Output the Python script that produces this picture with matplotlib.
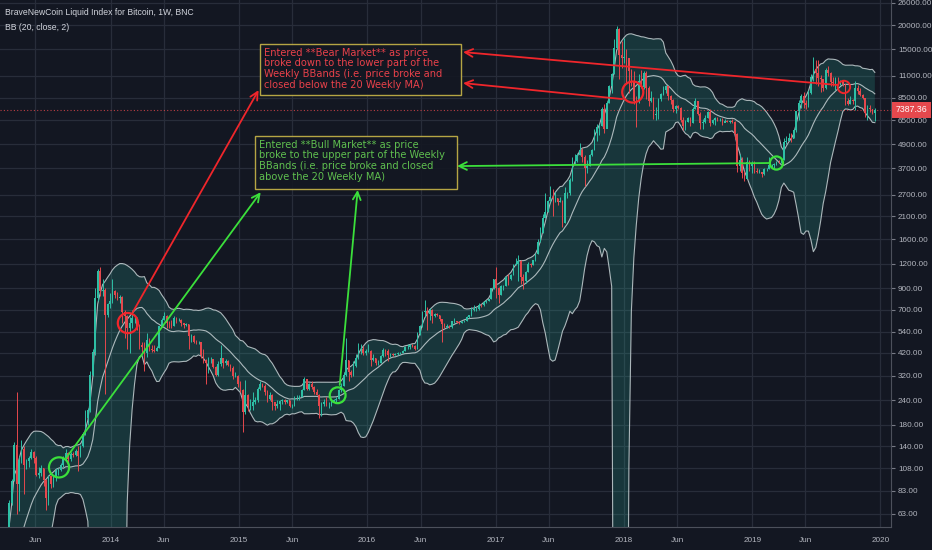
import numpy as np
import pandas as pd
import matplotlib
matplotlib.use('Agg')
import matplotlib.pyplot as plt
import matplotlib.dates as mdates
import matplotlib.transforms as mtransforms
from matplotlib import font_manager
from matplotlib.patches import Rectangle
from matplotlib.ticker import FixedLocator, NullLocator, FuncFormatter

# weekly bars (Monday start) from 2012-10-01, close / high / low per year
close_2012 = [11.9, 11.8, 11.7, 10.9, 10.8, 10.9, 11.6, 12.3, 12.6, 13.4, 13.5, 13.4, 13.4, 13.6]
high_2012 = [12.9, 12.0, 12.0, 11.8, 11.0, 11.0, 11.9, 12.5, 12.8, 13.6, 13.8, 13.6, 13.5, 13.8]
low_2012 = [11.7, 11.5, 11.6, 10.0, 10.5, 10.6, 10.8, 11.6, 12.1, 12.6, 13.3, 13.3, 13.2, 13.2]

close_2013 = [14.1, 15.7, 17.4, 20.4, 23.6, 27.0, 29.8, 34.5, 46.9, 47.0, 71.5, 93.0, 142, 90, 119, 135,
              112, 117, 122, 131, 122, 100, 102, 108, 94, 76, 98, 90, 96, 105, 106, 112, 122, 129, 120,
              127, 126, 132, 125, 140, 161, 195, 214, 322, 425, 800, 1097, 870, 880, 660, 745, 770]
high_2013 = [14.5, 16.0, 18.0, 21.0, 24.5, 27.5, 30.5, 35.0, 48.0, 48.5, 74.0, 95.0, 147, 266, 125, 150,
             140, 121, 125, 135, 133, 125, 110, 112, 108, 95, 100, 99, 98, 108, 108, 115, 124, 135, 130,
             131, 130, 135, 140, 142, 165, 215, 220, 340, 440, 900, 1130, 1160, 1000, 900, 760, 850]
low_2013 = [13.5, 14.0, 15.5, 17.3, 20.0, 23.5, 26.8, 29.5, 34.0, 40.0, 46.0, 70.0, 93, 63, 65, 115,
            80, 107, 110, 121, 115, 98, 96, 98, 88, 66, 70, 86, 87, 93, 100, 104, 110, 118, 114,
            118, 123, 124, 104, 123, 139, 160, 180, 210, 320, 410, 770, 820, 820, 260, 640, 710]

close_2014 = [870, 830, 800, 810, 680, 650, 560, 600, 630, 630, 560, 460, 450, 420, 490, 440, 435, 430,
              445, 575, 620, 650, 600, 595, 580, 630, 620, 620, 595, 585, 590, 510, 510, 480, 475, 480,
              410, 385, 375, 390, 390, 355, 325, 370, 395, 375, 380, 365, 350, 320, 320, 290]
high_2014 = [1000, 880, 860, 830, 820, 700, 660, 640, 700, 650, 640, 590, 480, 480, 530, 500, 460, 460,
             455, 580, 630, 680, 660, 610, 620, 650, 640, 630, 625, 600, 600, 590, 525, 520, 490, 485,
             480, 440, 390, 400, 400, 390, 360, 380, 460, 390, 390, 385, 370, 360, 335, 325]
low_2014 = [760, 800, 780, 760, 600, 500, 440, 420, 560, 600, 550, 440, 420, 340, 400, 430, 425, 425,
            430, 445, 570, 620, 560, 560, 560, 580, 600, 610, 580, 565, 575, 440, 480, 470, 465, 465,
            395, 375, 290, 330, 375, 350, 320, 320, 360, 350, 365, 360, 340, 310, 315, 280]

close_2015 = [270, 210, 255, 225, 225, 235, 240, 275, 290, 285, 265, 245, 255, 235, 225, 230, 238, 240,
              236, 240, 225, 225, 245, 245, 250, 270, 310, 275, 290, 280, 265, 255, 225, 230, 235, 230,
              230, 235, 240, 245, 270, 285, 325, 385, 335, 325, 360, 395, 435, 440, 420, 430]
high_2015 = [300, 275, 305, 260, 245, 265, 250, 280, 300, 295, 290, 270, 265, 260, 235, 240, 240, 245,
             245, 242, 240, 230, 252, 255, 255, 275, 315, 300, 295, 300, 285, 275, 260, 235, 245, 250,
             235, 240, 245, 250, 275, 295, 335, 500, 385, 345, 380, 415, 470, 465, 455, 440]
low_2015 = [265, 165, 205, 212, 215, 215, 230, 235, 270, 280, 255, 235, 240, 215, 215, 220, 215, 230,
            230, 232, 222, 220, 225, 240, 240, 250, 270, 270, 270, 275, 260, 255, 195, 200, 225, 225,
            220, 225, 235, 235, 245, 265, 285, 320, 300, 315, 320, 355, 390, 415, 410, 410]

close_2016 = [430, 385, 395, 375, 375, 405, 435, 430, 410, 415, 410, 415, 420, 420, 430, 450, 450, 460,
              455, 440, 530, 575, 680, 690, 665, 700, 650, 665, 655, 625, 590, 570, 580, 570, 610, 610,
              605, 600, 615, 615, 640, 655, 700, 705, 705, 740, 735, 765, 775, 790, 900, 1000]
high_2016 = [465, 435, 415, 395, 385, 410, 445, 440, 440, 420, 420, 420, 425, 425, 435, 455, 465, 465,
             465, 460, 535, 585, 690, 780, 720, 710, 705, 675, 670, 660, 620, 595, 590, 585, 615, 630,
             615, 610, 615, 620, 645, 660, 720, 740, 720, 755, 750, 775, 785, 795, 905, 1005]
low_2016 = [425, 360, 380, 365, 365, 375, 400, 405, 380, 400, 405, 410, 410, 415, 420, 430, 440, 440,
            450, 435, 440, 520, 570, 650, 550, 620, 600, 640, 645, 615, 480, 565, 565, 565, 565, 600,
            600, 590, 600, 605, 610, 630, 650, 690, 690, 700, 725, 730, 755, 770, 790, 890]

close_2017 = [900, 830, 920, 920, 1025, 1000, 1050, 1180, 1200, 1240, 1030, 975, 1090, 1200, 1180, 1250,
              1350, 1550, 1720, 2050, 2200, 2520, 2650, 2600, 2600, 2500, 2520, 1950, 2750, 2750, 3230,
              4050, 4050, 4350, 4600, 4200, 3700, 3800, 4350, 4600, 5600, 6000, 6100, 7400, 5900, 8000,
              9700, 11200, 15200, 19000, 14000, 13600]
high_2017 = [1150, 910, 935, 930, 1040, 1060, 1065, 1200, 1290, 1330, 1255, 1060, 1100, 1220, 1210, 1260,
             1360, 1610, 1850, 2150, 2750, 2560, 3000, 2900, 2800, 2600, 2640, 2540, 2950, 2810, 3290,
             4200, 4400, 4450, 4990, 4700, 4300, 4100, 4400, 4650, 5900, 6200, 6200, 7600, 7850, 8200,
             9900, 11400, 17000, 19800, 19200, 16500]
low_2017 = [800, 760, 830, 885, 920, 940, 995, 1050, 1180, 980, 950, 890, 960, 1090, 1160, 1180,
            1240, 1350, 1550, 1720, 2050, 2200, 2500, 2100, 2500, 2400, 2480, 1850, 1950, 2600, 2710,
            3200, 3900, 4000, 4300, 4000, 3000, 3500, 3800, 4250, 4600, 5100, 5500, 6100, 5600, 6500,
            8000, 9000, 11200, 15000, 10600, 12000]

close_2018 = [13700, 13500, 11600, 10200, 8200, 8100, 10400, 9600, 11400, 9500, 8200, 8500, 6900,
              7000, 8400, 8900, 9300, 9700, 8700, 8300, 7400, 7700, 7500, 6500, 6100, 6400, 6700, 6300,
              7400, 8200, 7000, 6300, 6400, 6700, 7200, 6300, 6500, 6700, 6600, 6600, 6300, 6450, 6400,
              6450, 6400, 5550, 3800, 4100, 3500, 3250, 4000, 3800, 3900]
high_2018 = [17200, 15000, 13600, 11900, 11700, 8700, 11200, 11800, 11700, 11600, 9800, 9200, 8600,
             7600, 8500, 9000, 9800, 9900, 9600, 8800, 8400, 7800, 7800, 7600, 6800, 6500, 6800, 6800,
             7600, 8500, 8200, 7150, 6600, 6900, 7300, 7400, 6600, 6800, 6800, 6700, 6650, 6600, 6550,
             6500, 6600, 6450, 5600, 4400, 4200, 3600, 4200, 4100, 4050]
low_2018 = [12800, 10000, 9000, 9800, 7900, 6000, 8000, 9500, 9400, 8400, 7700, 8100, 6600,
            6500, 6600, 8200, 8800, 9000, 8300, 7900, 7200, 7100, 7400, 6400, 5800, 5800, 6400, 6100,
            6300, 7400, 6900, 5900, 5900, 6300, 6700, 6100, 6200, 6150, 6450, 6450, 6150, 6400, 6350,
            6300, 6300, 5200, 3550, 3600, 3300, 3200, 3250, 3600, 3500]

close_2019 = [3600, 3550, 3550, 3450, 3650, 3650, 3850, 3850, 3900, 4000, 3980, 4100, 5050, 5100, 5300,
              5250, 5800, 7250, 8000, 8700, 8000, 7800, 8950, 10800, 11900, 11300, 10700, 10600, 9500,
              11800, 11400, 10200, 10100, 10400, 10300, 10300, 10000, 8200, 7900, 8300, 8200, 9500, 9200,
              8800, 8500, 7100, 7500, 7400, 7100, 7387.36]
high_2019 = [4050, 3700, 3650, 3550, 3700, 3700, 4200, 3900, 3950, 4020, 4100, 4150, 5300, 5400, 5600,
             5600, 5900, 7300, 8300, 8900, 9100, 8250, 9300, 11200, 13800, 13200, 13200, 11100, 10600,
             12000, 12300, 11500, 10900, 10800, 10900, 10500, 10400, 10000, 8500, 8700, 8400, 10400, 9900,
             9500, 8900, 8500, 7800, 7800, 7450, 7550]
low_2019 = [3500, 3500, 3500, 3350, 3400, 3580, 3650, 3700, 3700, 3850, 3950, 3950, 4100, 4900, 5150,
            5050, 5300, 5700, 6500, 7500, 7500, 7400, 7600, 8900, 10400, 10000, 9800, 9100, 9150,
            9400, 11000, 9700, 9800, 9300, 10100, 9900, 9700, 7800, 7800, 7900, 7900, 7350, 8900,
            8700, 8400, 6800, 6500, 7200, 7050, 6450]

last_price = 7387.36
price_ticks = [63, 83, 108, 140, 180, 240, 320, 420, 540, 700, 900, 1200, 1600, 2100, 2700, 3700,
               4900, 6500, 8500, 11000, 15000, 20000, 26000]
year_ticks = ['2014', '2015', '2016', '2017', '2018', '2019', '2020']
jun_ticks = ['2013-06', '2014-06', '2015-06', '2016-06', '2017-06', '2018-06', '2019-06']

bear_text = ("Entered **Bear Market** as price\nbroke down to the lower part of the\n"
             "Weekly BBands (i.e. price broke and\nclosed below the 20 Weekly MA)")
bull_text = ("Entered **Bull Market** as price\nbroke to the upper part of the Weekly\n"
             "BBands (i.e. price broke and closed\nabove the 20 Weekly MA)")

BG = '#131722'
UP = '#2ebfa5'
DOWN = '#e5484d'
GRID = '#282d3a'
TXT = '#b2b5be'
RED = '#f0262b'
GREEN = '#3be03b'

# narrow UI font if there is one, else plain sans
names = {f.name for f in font_manager.fontManager.ttflist}
NARROW = 'DejaVu Sans'
for cand in ('Liberation Sans Narrow', 'Liberation Sans', 'Roboto'):
    if cand in names:
        NARROW = cand
        break
UI_SIZE = 6.6 if NARROW == 'Liberation Sans Narrow' else 5.9

close = np.array(close_2012 + close_2013 + close_2014 + close_2015 + close_2016 + close_2017
                 + close_2018 + close_2019, dtype=float)
high = np.array(high_2012 + high_2013 + high_2014 + high_2015 + high_2016 + high_2017
                + high_2018 + high_2019, dtype=float)
low = np.array(low_2012 + low_2013 + low_2014 + low_2015 + low_2016 + low_2017
               + low_2018 + low_2019, dtype=float)
dates = pd.date_range('2012-10-01', periods=len(close), freq='W-MON')
opens = np.r_[close[0], close[:-1]]

s = pd.Series(close, index=dates)
basis = s.rolling(20).mean()
dev = s.rolling(20).std(ddof=0)
upper = basis + 2 * dev
lower = (basis - 2 * dev).clip(lower=1)

fig = plt.figure(figsize=(9.32, 5.5), dpi=100, facecolor=BG)
ax = fig.add_axes([0, 23 / 550, 891 / 932, 527 / 550], facecolor=BG)
ax.set_yscale('log')

# bollinger bands
ax.fill_between(dates, lower, upper, color='#2fb5a0', alpha=0.2, linewidth=0, zorder=1)
for band in (upper, basis, lower):
    ax.plot(dates, band, color='#bcc7ca', lw=0.8, alpha=0.9, zorder=2)

# candles
up = close >= opens
for mask, col in ((up, UP), (~up, DOWN)):
    ax.vlines(dates[mask], low[mask], high[mask], color=col, lw=0.7, zorder=3)
    ax.bar(dates[mask], np.abs(close - opens)[mask], bottom=np.minimum(close, opens)[mask],
           width=4.6, color=col, linewidth=0, zorder=3)

# current price line + label
ax.axhline(last_price, color=DOWN, lw=0.8, ls=(0, (1, 2)), alpha=0.8, zorder=2)
trans = mtransforms.blended_transform_factory(ax.transAxes, ax.transData)
ax.text(1.005, last_price, f'{last_price:.2f}', transform=trans, ha='left', va='center',
        fontsize=UI_SIZE + 0.4, color='white', family=NARROW,
        bbox=dict(boxstyle='square,pad=0.4', fc=DOWN, ec='none'), clip_on=False, zorder=10)

# circles and arrows (anchored like chart drawings: date, price)
def d(x):
    return mdates.date2num(pd.Timestamp(x))

for when, price, size, col, lw in [('2014-02-19', 597, 210, RED, 1.6),
                                   ('2018-01-26', 9080, 230, RED, 1.6),
                                   ('2019-09-19', 9640, 80, RED, 1.4),
                                   ('2013-08-07', 109, 210, GREEN, 1.6),
                                   ('2015-10-09', 255, 130, GREEN, 1.6),
                                   ('2019-03-11', 3935, 90, GREEN, 1.6)]:
    ax.scatter(d(when), price, s=size, facecolors='none', edgecolors=col, linewidths=lw, zorder=6)

arrows = [(('2014-03-05', 679), ('2015-02-26', 9290), RED),
          (('2017-12-27', 8360), ('2016-09-30', 10090), RED),
          (('2019-09-03', 9860), ('2016-09-30', 14540), RED),
          (('2013-08-27', 121.6), ('2015-03-04', 2790), GREEN),
          (('2015-10-15', 288), ('2015-12-05', 2864), GREEN),
          (('2019-02-20', 3935), ('2016-09-13', 3795), GREEN)]
for (t0, p0), (t1, p1), col in arrows:
    ax.annotate('', xy=(d(t1), p1), xytext=(d(t0), p0),
                arrowprops=dict(arrowstyle='->', color=col, lw=1.3, mutation_scale=14,
                                shrinkA=0, shrinkB=0), zorder=7)

# text boxes (pixel positions converted to axes fractions)
def px(x, y):
    return x / 891, 1 - y / 527

for (x0, y0, x1, y1), txt, col in [((260, 44, 461, 95), bear_text, '#e8414a'),
                                   ((255, 136, 457, 189), bull_text, '#5fbf4f')]:
    bx, by = px(x0, y1)
    ax.add_patch(Rectangle((bx, by), (x1 - x0) / 891, (y1 - y0) / 527, transform=ax.transAxes,
                           fc=BG, ec='#c8b548', lw=1.0, alpha=0.9, zorder=8))
    tx, ty = px(x0 + 4, y0 + 3.5)
    ax.text(tx, ty, txt, transform=ax.transAxes, ha='left', va='top', color=col,
            fontsize=7.1, linespacing=1.1, family='DejaVu Sans', zorder=9)

# axes, ticks, grid
ax.set_xlim(d('2013-02-20'), d('2020-01-31'))
ax.set_ylim(54, 26860)
ax.yaxis.tick_right()
ax.yaxis.set_major_locator(FixedLocator(price_ticks))
ax.yaxis.set_minor_locator(NullLocator())
ax.yaxis.set_major_formatter(FuncFormatter(lambda v, p: f'{v:.2f}'))
xt = [d(y + '-01-01') for y in year_ticks] + [d(m + '-01') for m in jun_ticks]
xl = year_ticks + ['Jun'] * len(jun_ticks)
ax.set_xticks(xt)
ax.set_xticklabels(xl)
ax.tick_params(axis='y', colors='#787b86', labelcolor=TXT, labelsize=UI_SIZE, length=3, pad=2)
ax.tick_params(axis='x', colors='#787b86', labelcolor=TXT, labelsize=UI_SIZE, length=0, pad=7)
for lab in ax.get_xticklabels() + ax.get_yticklabels():
    lab.set_family(NARROW)
ax.grid(True, color=GRID, lw=0.9)
ax.set_axisbelow(True)
for side in ('top', 'left'):
    ax.spines[side].set_visible(False)
for side in ('right', 'bottom'):
    ax.spines[side].set_color('#4c505b')

ax.text(0.006, 0.985, 'BraveNewCoin Liquid Index for Bitcoin, 1W, BNC', transform=ax.transAxes,
        ha='left', va='top', color='#d1d4dc', fontsize=UI_SIZE + 0.3, family=NARROW)
ax.text(0.006, 0.956, 'BB (20, close, 2)', transform=ax.transAxes, ha='left', va='top',
        color='#d1d4dc', fontsize=UI_SIZE + 0.3, family=NARROW)

fig.savefig('out.png', dpi=100, facecolor=BG)
